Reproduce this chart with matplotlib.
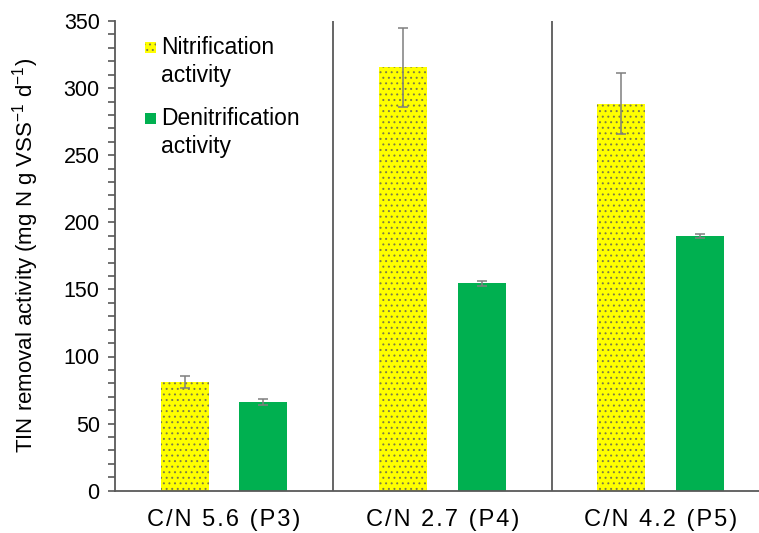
import matplotlib
matplotlib.use("Agg")
import matplotlib.pyplot as plt
from matplotlib.patches import Rectangle
from matplotlib.ticker import MultipleLocator
import numpy as np

plt.rcParams['font.family'] = ['Liberation Sans', 'DejaVu Sans']
plt.rcParams['mathtext.fontset'] = 'custom'
plt.rcParams['mathtext.rm'] = 'Liberation Sans'
plt.rcParams['mathtext.it'] = 'Liberation Sans'
plt.rcParams['hatch.linewidth'] = 0.7

categories = ["C/N 5.6 (P3)", "C/N 2.7 (P4)", "C/N 4.2 (P5)"]
nitrification = [81, 315.5, 288.5]
nitrification_err = [4.6, 29.5, 23]
denitrification = [66, 154.5, 189.5]
denitrification_err = [2, 2, 1.5]
series_labels = ["Nitrification\nactivity", "Denitrification\nactivity"]

yellow = "#FFFF00"
dots = "#7c7c48"
green = "#00B050"
err_color = "#7f7f7f"
axis_color = "#595959"

W, H = 759, 533
fig = plt.figure(figsize=(W / 100, H / 100), dpi=100)
ax = fig.add_axes([115 / W, 1 - 490.7 / H, (W - 115) / W, (490.7 - 21) / H])

x = np.arange(len(categories))
w = 0.22
off = 0.18
ekw = dict(elinewidth=1.1, capsize=3.5, capthick=1.1)

ax.bar(x - off, nitrification, w, color=yellow, hatch='...', edgecolor=dots,
       linewidth=0, yerr=nitrification_err, ecolor=err_color, error_kw=ekw, zorder=2)
ax.bar(x + off, denitrification, w, color=green, edgecolor='none',
       yerr=denitrification_err, ecolor=err_color, error_kw=ekw, zorder=2)

# vertical separators between the groups
for s in x[:-1] + 0.5:
    ax.axvline(s, color=axis_color, lw=1.3, zorder=1)

ax.set_xlim(-0.5, -0.5 + (W - 115) / 218.3)
ax.set_ylim(0, 350)
ax.yaxis.set_major_locator(MultipleLocator(50))
ax.yaxis.set_minor_locator(MultipleLocator(10))
ax.tick_params(axis='y', which='both', direction='out', length=5, width=1.2,
               color=axis_color, labelsize=15.5, pad=6)
ax.tick_params(axis='x', length=0, pad=13)


def tracked(s):
    return "\u200a".join(s)


ax.set_xticks(x)
ax.set_xticklabels([tracked(c) for c in categories], fontsize=17)

for sp in ['top', 'right']:
    ax.spines[sp].set_visible(False)
for sp in ['left', 'bottom']:
    ax.spines[sp].set_color(axis_color)
    ax.spines[sp].set_linewidth(1.3)

ax.set_ylabel("TIN removal activity (mg N g VSS$^{-1}$ d$^{-1}$)", fontsize=16, labelpad=16)

# legend: small square keys beside two-line labels
def px(xp, yp):
    return xp / W, 1 - yp / H

key_styles = [dict(facecolor=yellow, hatch='...', edgecolor=dots, linewidth=0),
              dict(facecolor=green, edgecolor='none')]
key_tops = [42, 113]
for lab, style, top in zip(series_labels, key_styles, key_tops):
    kx, ky = px(145, top + 11)
    fig.add_artist(Rectangle((kx, ky), 11 / W, 11 / H, transform=fig.transFigure, **style))
    first, second = lab.split("\n")
    tx, ty = px(161, top + 12)
    fig.text(tx, ty, first, fontsize=16.5, va='baseline', ha='left')
    tx, ty = px(161, top + 40)
    fig.text(tx, ty, second, fontsize=16.5, va='baseline', ha='left')

fig.savefig("out.png", dpi=100)
